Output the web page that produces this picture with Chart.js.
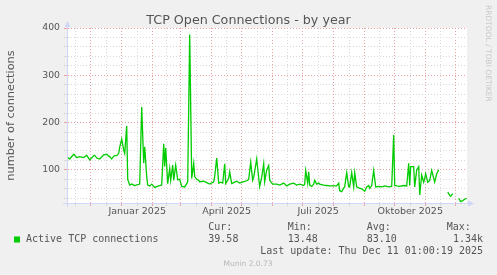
<!DOCTYPE html>
<html><head><meta charset="utf-8">
<script src="https://cdn.jsdelivr.net/npm/chart.js@4/dist/chart.umd.min.js"></script>
<style>html,body{margin:0;padding:0;background:#f0f0f0;overflow:hidden}</style>
</head><body>
<canvas id="c" width="497" height="275"></canvas>
<script>
const chartTitle = 'TCP Open Connections - by year';
const yAxisTitle = 'number of connections';
const seriesName = 'Active TCP connections';
const startDate = '2024-11-06'; // day 0 of dayOffsets
const dayOffsets = [1,4,8,11,14,18,21,24,28,29,31,34,38,41,43,44,46,48,49,51,53,54,56,58,59,61,62,64,66,69,72,74,76,78,79,81,82,84,86,89,93,96,98,99,100,102,104,105,107,108,110,112,114,116,119,122,124,126,128,129,131,133,134,138,141,144,148,149,151,153,155,157,159,160,163,164,166,168,171,174,178,181,183,185,187,188,191,193,194,196,198,199,201,203,204,207,211,214,218,221,224,228,231,234,238,239,240,242,243,244,246,248,249,251,253,254,258,261,264,268,271,273,274,276,278,279,281,283,284,286,288,289,291,293,296,299,301,303,304,306,308,310,313,316,319,323,326,328,329,331,334,338,341,343,344,345,348,349,351,353,354,356,358,359,360,362,364,366,368,369,371,373,374,382,384,385,387,388,393,395,397,399,401];
const connections = [128,123,133,126,128,126,131,121,130,131,125,123,132,133,129,128,123,129,130,130,135,148,165,142,135,193,80,68,70,67,69,70,233,114,149,86,68,66,70,63,66,68,155,107,146,71,103,78,110,78,110,79,80,65,64,75,386,82,114,86,80,78,75,76,73,70,75,86,125,72,74,72,113,71,82,96,71,73,76,72,75,77,80,116,78,84,123,84,65,84,113,75,100,109,78,70,70,68,72,66,70,72,68,70,67,70,99,72,96,68,65,70,78,70,72,70,68,67,66,66,66,72,56,54,62,64,94,64,64,94,64,94,64,62,60,55,64,67,61,67,99,64,65,64,66,64,65,174,67,66,65,67,66,114,67,107,107,64,100,107,47,89,74,82,92,74,78,99,82,74,92,100,null,53,46,44,50,null,40,33,35,38,40];
const yTickValues = [40,60,80,100,120,140,160,180,200,220,240,260,280,300,320,340,360,380,400];
const yLabelValues = [100,200,300,400];
const gridMonths = ['2024-11','2024-12','2025-01','2025-02','2025-03','2025-04','2025-05','2025-06','2025-07','2025-08','2025-09','2025-10','2025-11','2025-12'];
const labelMonths = ['2025-01','2025-04','2025-07','2025-10'];
const labelTexts = ['Januar 2025','April 2025','Juli 2025','Oktober 2025'];
const statHeaders = ['Cur:','Min:','Avg:','Max:'];
const statValues = ['39.58','13.48','83.10','1.34k'];
const lastUpdate = 'Last update: Thu Dec 11 01:00:19 2025';
const footerText = 'Munin 2.0.73';
const sideText = 'RRDTOOL / TOBI OETIKER';

const DAY = 86400000;
function dayOf(ymd){const p=ymd.split('-').map(Number);const s=startDate.split('-').map(Number);return (Date.UTC(p[0],p[1]-1,p[2]||1)-Date.UTC(s[0],s[1]-1,s[2]))/DAY;}
function nextMonth(ym){let [y,m]=ym.split('-').map(Number);m++;if(m>12){m=1;y++;}return y+'-'+String(m).padStart(2,'0');}

const X_MIN = 1.3, X_MAX = 401.3;
const xTicks = [];
gridMonths.forEach(ym=>{
  const s = dayOf(ym+'-01'), n = dayOf(nextMonth(ym)+'-01');
  const li = labelMonths.indexOf(ym);
  if (s>=X_MIN && s<=X_MAX) xTicks.push({value:s, kind:'major', label:''});
  const mid=(s+n)/2;
  if (mid>=X_MIN && mid<=X_MAX) xTicks.push({value:mid, kind:'minor', label: li>=0?labelTexts[li]:''});
});
xTicks.sort((a,b)=>a.value-b.value);

const points = dayOffsets.map((d,i)=>({x:d, y:connections[i]}));

const FONT_COLOR = '#555';
const GRID = '#d8d8d8';
const MGRID = '#eca0a0';
const AXIS = '#CFD6F8';

const decor = {
  id:'decor',
  beforeDraw(chart){
    const {ctx, chartArea:a} = chart;
    ctx.save();
    ctx.fillStyle='#f0f0f0'; ctx.fillRect(0,0,chart.width,chart.height);
    ctx.fillStyle='#ffffff'; ctx.fillRect(a.left,a.top,a.right-a.left,a.bottom-a.top);
    ctx.restore();
  },
  afterDraw(chart){
    const {ctx, chartArea:a} = chart;
    ctx.save();
    ctx.strokeStyle=AXIS; ctx.fillStyle=AXIS; ctx.lineWidth=1;
    ctx.beginPath(); ctx.moveTo(a.left+0.5,a.bottom+4); ctx.lineTo(a.left+0.5,a.top-3); ctx.stroke();
    ctx.beginPath(); ctx.moveTo(a.left-4,a.bottom+0.5); ctx.lineTo(a.right+3,a.bottom+0.5); ctx.stroke();
    ctx.beginPath(); ctx.moveTo(a.left+0.5-3,a.top-1); ctx.lineTo(a.left+0.5+3,a.top-1); ctx.lineTo(a.left+0.5,a.top-7); ctx.closePath(); ctx.fill();
    ctx.beginPath(); ctx.moveTo(a.right+1,a.bottom+0.5-3); ctx.lineTo(a.right+1,a.bottom+0.5+3); ctx.lineTo(a.right+7,a.bottom+0.5); ctx.closePath(); ctx.fill();
    ctx.fillStyle=FONT_COLOR; ctx.textAlign='center'; ctx.textBaseline='alphabetic';
    ctx.font='12.7px "DejaVu Sans"';
    ctx.fillText(chartTitle, 248.5, 23.5);
    ctx.fillStyle='#00cc00'; ctx.fillRect(14,236.5,6,6);
    ctx.fillStyle=FONT_COLOR; ctx.font='10px "DejaVu Sans Mono"'; ctx.textBaseline='middle'; ctx.textAlign='left';
    ctx.fillText(seriesName, 26, 239.5);
    const cols=[208.3,287.7,366.7,446.7];
    statHeaders.forEach((h,i)=>ctx.fillText(h, cols[i], 227.8));
    statValues.forEach((v,i)=>{ if(i<3) ctx.fillText(v, cols[i], 239.5); else {ctx.textAlign='right'; ctx.fillText(v, 483, 239.5); ctx.textAlign='left';} });
    ctx.textAlign='right';
    ctx.fillText(lastUpdate, 483, 251.8);
    ctx.textAlign='center'; ctx.fillStyle='#b8b8b8'; ctx.font='7.5px "DejaVu Sans"';
    ctx.fillText(footerText, 248, 264.3);
    ctx.translate(488, 5); ctx.rotate(Math.PI/2);
    ctx.textAlign='left'; ctx.fillStyle='#c8c8c8';
    ctx.fillText(sideText, 0, 0);
    ctx.restore();
  }
};

new Chart(document.getElementById('c'), {
  type:'line',
  data:{datasets:[{label:seriesName, data:points, borderColor:'#00cc00', borderWidth:1.3, pointRadius:0, tension:0, spanGaps:false, fill:false}]},
  options:{
    responsive:false, animation:false, devicePixelRatio:1,
    layout:{padding:{top:28,right:30,bottom:52,left:0}},
    plugins:{legend:{display:false}, tooltip:{enabled:false}, title:{display:false}},
    scales:{
      x:{type:'linear', min:X_MIN, max:X_MAX,
        afterBuildTicks(s){ s.ticks = xTicks.map(t=>({value:t.value})); },
        afterFit(s){ s.height=20; },
        ticks:{autoSkip:false, maxRotation:0, padding:0, color:FONT_COLOR, font:{family:'DejaVu Sans', size:9.5},
          callback:(v)=>{const t=xTicks.find(t=>Math.abs(t.value-v)<1e-6); return t?t.label:'';}},
        grid:{drawOnChartArea:true, drawTicks:true, tickLength:3, lineWidth:1,
          color:(c)=>{const t=xTicks.find(t=>c.tick && Math.abs(t.value-c.tick.value)<1e-6); return t&&t.kind==='major'?MGRID:GRID;}},
        border:{display:true, color:AXIS, width:1, dash:[1,2]}
      },
      y:{type:'linear', min:30, max:400,
        afterBuildTicks(s){ s.ticks = yTickValues.map(v=>({value:v})); },
        afterFit(s){ s.width=67; },
        ticks:{autoSkip:false, padding:4, color:FONT_COLOR, font:{family:'DejaVu Sans', size:9.3},
          callback:(v)=> yLabelValues.includes(v)?String(v):''},
        grid:{drawTicks:true, tickLength:3, lineWidth:1, color:(c)=> c.tick && c.tick.value%100===0 ? MGRID : GRID},
        border:{display:true, color:AXIS, width:1, dash:[1,2]},
        title:{display:true, text:yAxisTitle, color:FONT_COLOR, font:{family:'DejaVu Sans', size:11.3}, padding:{top:4.4,bottom:0}}
      }
    }
  },
  plugins:[decor]
});
</script>
</body></html>
